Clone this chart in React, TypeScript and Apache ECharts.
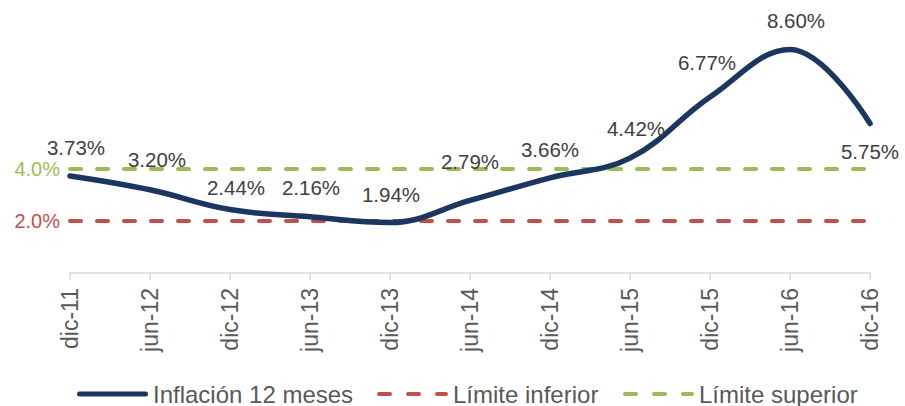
import React, { useEffect, useRef } from "react";
import * as echarts from "echarts";

const categories = ["dic-11", "jun-12", "dic-12", "jun-13", "dic-13", "jun-14", "dic-14", "jun-15", "dic-15", "jun-16", "dic-16"];
const inflacion = [3.73, 3.2, 2.44, 2.16, 1.94, 2.79, 3.66, 4.42, 6.77, 8.6, 5.75];
const limiteInferior = [2, 2, 2, 2, 2, 2, 2, 2, 2, 2, 2];
const limiteSuperior = [4, 4, 4, 4, 4, 4, 4, 4, 4, 4, 4];
const seriesNames = ["Inflación 12 meses", "Límite inferior", "Límite superior"];

const NAVY = "#1B365F";
const RED = "#C0504D";
const GREEN = "#9BBB59";
const FONT = "Liberation Sans";

const SOLID_ICON = "path://M2.5 0h66a2.5 2.5 0 0 1 0 5h-66a2.5 2.5 0 0 1 0-5z";
const DASH_ICON =
  "path://M2 0h11a2 2 0 0 1 0 4h-11a2 2 0 0 1 0-4z" +
  "M31 0h11a2 2 0 0 1 0 4h-11a2 2 0 0 1 0-4z" +
  "M60 0h9a2 2 0 0 1 0 4h-9a2 2 0 0 1 0-4z";

export default function App() {
  const ref = useRef<HTMLDivElement>(null);
  useEffect(() => {
    if (!ref.current) return;
    const chart = echarts.init(ref.current, null, { renderer: "svg" });
    const labelTweaks: Record<number, any> = {
      0: { offset: [6, 0] },
      1: { offset: [7, -1] },
      2: { offset: [6, 7] },
      3: { offset: [1, 0] },
      4: { offset: [1, 1] },
      5: { offset: [0, -10] },
      6: { offset: [0, 1] },
      7: { offset: [6, -1] },
      8: { offset: [-3, -5] },
      9: { offset: [6, 0] },
      10: { position: "bottom", offset: [0, -1] },
    };
    const legendBase = {
      top: 377,
      itemGap: 0,
      textStyle: { color: "#595959", fontSize: 24, fontFamily: FONT },
    };
    chart.setOption({
      animation: false,
      textStyle: { fontFamily: FONT },
      grid: { left: 70, right: 35, top: 13, bottom: 133, containLabel: false },
      xAxis: {
        type: "category",
        data: categories,
        boundaryGap: false,
        axisLine: { lineStyle: { color: "#D9D9D9", width: 1.5 } },
        axisTick: { show: true, length: 7, lineStyle: { color: "#D9D9D9", width: 1.5 } },
        axisLabel: { rotate: 90, color: "#595959", fontSize: 23, margin: 15, fontFamily: FONT },
      },
      yAxis: {
        type: "value",
        min: 0,
        max: 10,
        interval: 2,
        splitLine: { show: false },
        axisLine: { show: false },
        axisTick: { show: false },
        axisLabel: {
          margin: 10,
          fontSize: 20,
          fontFamily: FONT,
          formatter: (v: number) => (v === 2 ? "{r|2.0%}" : v === 4 ? "{g|4.0%}" : ""),
          rich: {
            r: { color: RED, fontSize: 20, fontFamily: FONT },
            g: { color: GREEN, fontSize: 20, fontFamily: FONT },
          },
        },
      },
      legend: [
        { ...legendBase, left: 72, itemWidth: 71, itemHeight: 5, data: [{ name: seriesNames[0], icon: SOLID_ICON }] },
        { ...legendBase, left: 372, itemWidth: 71, itemHeight: 4, data: [{ name: seriesNames[1], icon: DASH_ICON }] },
        { ...legendBase, left: 618, itemWidth: 71, itemHeight: 4, data: [{ name: seriesNames[2], icon: DASH_ICON }] },
      ],
      series: [
        {
          name: seriesNames[1],
          type: "line",
          data: limiteInferior,
          symbol: "none",
          lineStyle: { color: RED, width: 4, type: [11, 16], cap: "round" },
          itemStyle: { color: RED },
          z: 2,
        },
        {
          name: seriesNames[2],
          type: "line",
          data: limiteSuperior,
          symbol: "none",
          lineStyle: { color: GREEN, width: 4, type: [11, 16], cap: "round" },
          itemStyle: { color: GREEN },
          z: 2,
        },
        {
          name: seriesNames[0],
          type: "line",
          smooth: 0.4,
          symbol: "none",
          data: inflacion,
          lineStyle: { color: NAVY, width: 5.5, cap: "round" },
          itemStyle: { color: NAVY },
          z: 3,
        },
        {
          name: "labels",
          type: "line",
          symbol: "circle",
          symbolSize: 1,
          showSymbol: true,
          silent: true,
          itemStyle: { color: "rgba(0,0,0,0)" },
          lineStyle: { width: 0, color: "rgba(0,0,0,0)" },
          data: inflacion.map((v, i) => ({ value: v, label: labelTweaks[i] || {} })),
          z: 4,
          label: {
            show: true,
            position: "top",
            distance: 18,
            color: "#404040",
            fontSize: 20.5,
            fontFamily: FONT,
            formatter: (p: any) => Number(p.value).toFixed(2) + "%",
          },
        },
      ],
    });
    return () => chart.dispose();
  }, []);
  return <div ref={ref} style={{ position: "absolute", left: 0, top: 0, width: 905, height: 406 }} />;
}
